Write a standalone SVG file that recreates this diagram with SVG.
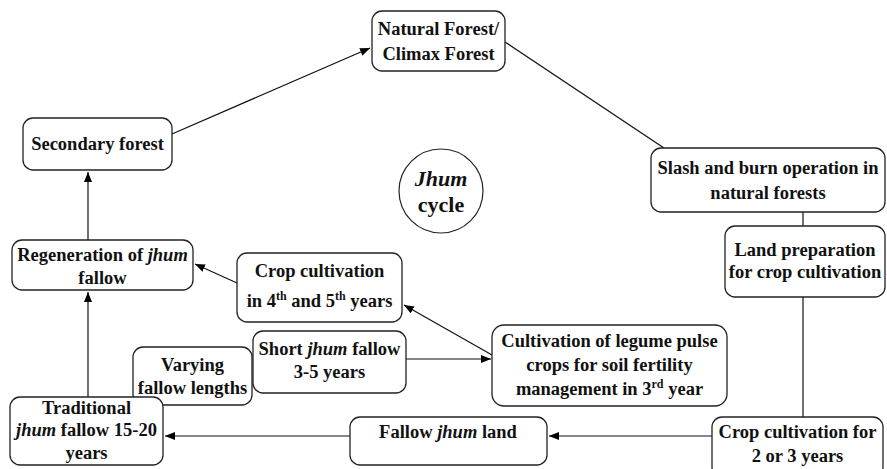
<svg xmlns="http://www.w3.org/2000/svg" width="887" height="469" viewBox="0 0 887 469">
  <defs>
    <marker id="arrow" viewBox="0 0 10 8" refX="10" refY="4" markerWidth="10" markerHeight="8" markerUnits="userSpaceOnUse" orient="auto">
      <path d="M0,0 L10,4 L0,8 Z" fill="#000"/>
    </marker>
    <style>
      .box { fill: #fff; stroke: #222; stroke-width: 1.3; }
      .lbl { font-family: "Liberation Serif", "Times New Roman", serif; font-weight: bold; font-size: 18.5px; fill: #111; text-anchor: middle; }
      .it { font-style: italic; }
      .sup { font-size: 12px; }
      .conn { stroke: #111; stroke-width: 1.2; fill: none; }
      .arr { marker-end: url(#arrow); }
    </style>
  </defs>
  <rect width="887" height="469" fill="#fff"/>

  <!-- connectors -->
  <g id="connectors">
    <line class="conn arr" x1="172" y1="134" x2="370" y2="48"/>
    <line class="conn" x1="505" y1="42" x2="664" y2="148"/>
    <line class="conn" x1="803" y1="212" x2="803" y2="226"/>
    <line class="conn" x1="803" y1="297" x2="803" y2="417"/>
    <line class="conn arr" x1="712" y1="436" x2="549" y2="436"/>
    <line class="conn arr" x1="350" y1="436" x2="165" y2="436"/>
    <line class="conn arr" x1="88" y1="397" x2="88" y2="292"/>
    <line class="conn arr" x1="88" y1="240" x2="88" y2="172"/>
    <line class="conn arr" x1="237" y1="283" x2="195" y2="264"/>
    <line class="conn arr" x1="492" y1="355" x2="404" y2="305"/>
    <line class="conn arr" x1="406" y1="359" x2="491" y2="359"/>
  </g>

  <g id="natural-forest">
    <rect class="box" x="372" y="11" width="133" height="60" rx="10"/>
    <text class="lbl" x="438.5" y="35">Natural Forest/</text>
    <text class="lbl" x="438.5" y="60">Climax Forest</text>
  </g>

  <g id="secondary-forest">
    <rect class="box" x="23" y="118" width="149" height="52" rx="10"/>
    <text class="lbl" x="97.5" y="150">Secondary forest</text>
  </g>

  <g id="jhum-cycle">
    <circle cx="441" cy="191" r="42" fill="#fff" stroke="#222" stroke-width="1.2"/>
    <text class="lbl" x="441" y="186" style="font-size:22px"><tspan class="it">Jhum</tspan></text>
    <text class="lbl" x="441" y="212" style="font-size:22px">cycle</text>
  </g>

  <g id="slash-burn">
    <rect class="box" x="651" y="148" width="234" height="64" rx="10"/>
    <text class="lbl" x="768" y="174">Slash and burn operation in</text>
    <text class="lbl" x="768" y="199">natural forests</text>
  </g>

  <g id="land-preparation">
    <rect class="box" x="725" y="226" width="160" height="71" rx="10"/>
    <text class="lbl" x="805" y="256">Land preparation</text>
    <text class="lbl" x="805" y="278">for crop cultivation</text>
  </g>

  <g id="regeneration">
    <rect class="box" x="12" y="240" width="181" height="50" rx="10"/>
    <text class="lbl" x="102.5" y="261">Regeneration of <tspan class="it">jhum</tspan></text>
    <text class="lbl" x="102.5" y="284">fallow</text>
  </g>

  <g id="crop-4-5">
    <rect class="box" x="237" y="253" width="165" height="69" rx="10"/>
    <text class="lbl" x="319.5" y="277">Crop cultivation</text>
    <text class="lbl" x="319.5" y="307">in 4<tspan class="sup" dy="-7">th</tspan><tspan dy="7"> and 5</tspan><tspan class="sup" dy="-7">th</tspan><tspan dy="7"> years</tspan></text>
  </g>

  <g id="short-fallow">
    <rect class="box" x="253" y="331" width="153" height="62" rx="10"/>
    <text class="lbl" x="329.5" y="355">Short <tspan class="it">jhum</tspan> fallow</text>
    <text class="lbl" x="329.5" y="378">3-5 years</text>
  </g>

  <g id="varying-fallow">
    <rect class="box" x="133" y="347" width="119" height="58" rx="10"/>
    <text class="lbl" x="192.5" y="371">Varying</text>
    <text class="lbl" x="192.5" y="394">fallow lengths</text>
  </g>

  <g id="legume">
    <rect class="box" x="492" y="325" width="235" height="81" rx="12"/>
    <text class="lbl" x="609.5" y="347">Cultivation of legume pulse</text>
    <text class="lbl" x="609.5" y="371">crops for soil fertility</text>
    <text class="lbl" x="609.5" y="395">management in 3<tspan class="sup" dy="-7">rd</tspan><tspan dy="7"> year</tspan></text>
  </g>

  <g id="traditional-fallow">
    <rect class="box" x="10" y="397" width="153" height="68" rx="10"/>
    <text class="lbl" x="86.5" y="414">Traditional</text>
    <text class="lbl" x="86.5" y="436"><tspan class="it">jhum</tspan> fallow 15-20</text>
    <text class="lbl" x="86.5" y="459">years</text>
  </g>

  <g id="fallow-land">
    <rect class="box" x="350" y="417" width="197" height="48" rx="10"/>
    <text class="lbl" x="448" y="438">Fallow <tspan class="it">jhum</tspan> land</text>
  </g>

  <g id="crop-2-3">
    <rect class="box" x="712" y="417" width="171" height="60" rx="10"/>
    <text class="lbl" x="797.5" y="438">Crop cultivation for</text>
    <text class="lbl" x="797.5" y="462">2 or 3 years</text>
  </g>
</svg>
